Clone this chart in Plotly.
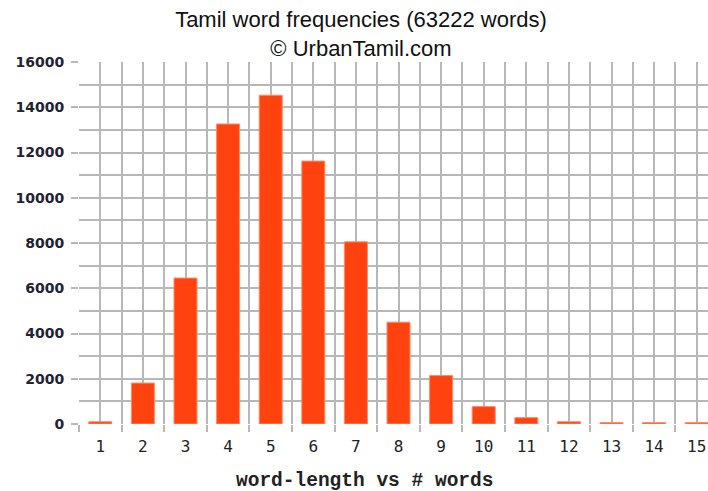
import plotly.graph_objects as go

word_lengths = list(range(1, 16))
word_counts = [100, 1810, 6450, 13260, 14530, 11620, 8050, 4500, 2140, 770, 280, 100, 60, 60, 60]
tick_labels = [str(v) for v in word_lengths]

grid = "#b8b8b8"
fig = go.Figure()
fig.add_trace(go.Bar(
    x=word_lengths, y=word_counts, width=0.54,
    marker=dict(color="#ff420e", line=dict(color="#ff8a66", width=1)),
))

fig.update_layout(
    width=708, height=491,
    margin=dict(l=79, r=0, t=62, b=67, autoexpand=False),
    paper_bgcolor="white", plot_bgcolor="white",
    showlegend=False,
    title=dict(
        text="Tamil word frequencies (63222 words)<br>© UrbanTamil.com",
        x=361 / 708, xanchor="center", xref="container",
        y=1 - 27 / 491, yanchor="middle", yref="container",
        font=dict(family="Liberation Sans", size=22, color="#111111"),
    ),
    xaxis=dict(
        range=[0.5, 15.265], tickvals=word_lengths, ticktext=tick_labels,
        showgrid=True, gridcolor=grid, gridwidth=1.5, ticks="",
        zeroline=False, showline=False, ticklabelstandoff=11,
        tickfont=dict(family="DejaVu Sans Mono", size=16, color="#222222"),
        minor=dict(tick0=0.5, dtick=1, ticks="outside", ticklen=7, tickcolor=grid,
                   tickwidth=1.5, showgrid=True, gridcolor=grid, gridwidth=1.5),
    ),
    yaxis=dict(
        range=[0, 16000], dtick=2000, tick0=0, tickformat="d",
        showgrid=True, gridcolor=grid, gridwidth=1.5,
        ticks="outside", ticklen=7, tickcolor=grid, tickwidth=1.5,
        zeroline=False, showline=False, ticklabelstandoff=4,
        tickfont=dict(family="DejaVu Sans", size=14, color="#222233", weight="bold"),
        minor=dict(dtick=1000, showgrid=True, gridcolor=grid, gridwidth=1.5, ticks=""),
    ),
    annotations=[dict(
        text="word-length vs # words", x=(364 - 79) / 629, xref="paper", xanchor="center",
        y=-57 / 362, yref="paper", yanchor="middle", showarrow=False,
        font=dict(family="Liberation Mono", size=19.5, color="#222222", weight="bold"),
    )],
)

fig.write_html(
    "out.html",
    config={"displayModeBar": False},
    post_script="document.body.style.margin='0';document.body.style.padding='0';",
)
